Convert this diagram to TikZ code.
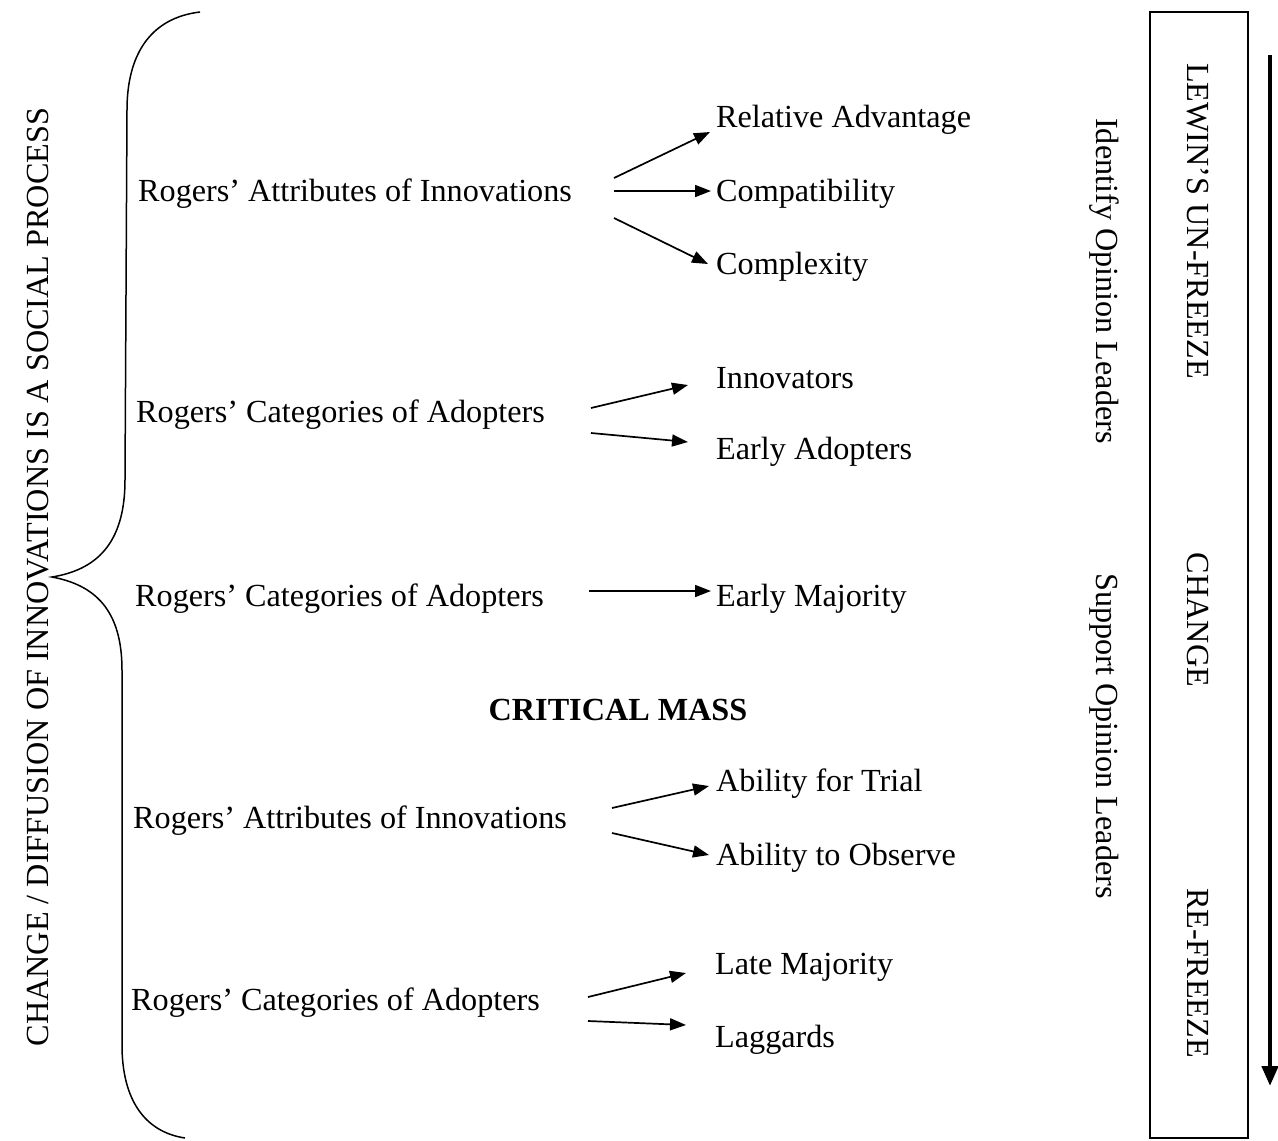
\documentclass[tikz,border=0pt]{standalone}
\usepackage{fontspec}
\setmainfont{Liberation Serif}
\usetikzlibrary{arrows.meta}
\begin{document}
\begin{tikzpicture}[x=1pt,y=-1pt,
  txt/.style={inner sep=0pt,anchor=west,font=\fontsize{32.2}{38}\selectfont},
  side/.style={inner sep=0pt,font=\fontsize{32.2}{38}\selectfont},
  link/.style={line width=1.7pt,-{Triangle[length=16pt,width=12pt]}}]
\useasboundingbox (0,0) rectangle (1278,1141);

% large curly brace
\draw[line width=1.5pt] (200,12) .. controls (150,18) and (127,55) .. (127,110)
  -- (125,480) .. controls (125,545) and (95,570) .. (52,577)
  .. controls (95,585) and (122,610) .. (122,670)
  -- (122,1045) .. controls (122,1100) and (145,1132) .. (185,1138);
\node[side,rotate=90] (title) at (38,577) {CHANGE / DIFFUSION OF INNOVATIONS IS A SOCIAL PROCESS};

% left column
\node[txt] (attrA) at (138,194) {Rogers’ Attributes of Innovations};
\node[txt] (catA)  at (136,415) {Rogers’ Categories of Adopters};
\node[txt] (catB)  at (135,599) {Rogers’ Categories of Adopters};
\node[inner sep=0pt,font=\fontsize{32.2}{38}\selectfont\bfseries] (mass) at (618,710) {CRITICAL MASS};
\node[txt] (attrB) at (133,821) {Rogers’ Attributes of Innovations};
\node[txt] (catC)  at (131,1003) {Rogers’ Categories of Adopters};

% right column
\node[txt] (reladv) at (716,120) {Relative Advantage};
\node[txt] (compat) at (716,194) {Compatibility};
\node[txt] (complx) at (716,267) {Complexity};
\node[txt] (innov)  at (716,378) {Innovators};
\node[txt] (early)  at (716,452) {Early Adopters};
\node[txt] (emaj)   at (716,599) {Early Majority};
\node[txt] (trial)  at (716,784) {Ability for Trial};
\node[txt] (observe) at (716,858) {Ability to Observe};
\node[txt] (lmaj)   at (715,967) {Late Majority};
\node[txt] (lag)    at (715,1040) {Laggards};

% arrow end points
\coordinate (s1) at (614,178); \coordinate (e1) at (710,132);
\coordinate (s2) at (614,191); \coordinate (e2) at (711,191);
\coordinate (s3) at (614,218); \coordinate (e3) at (708,264);
\coordinate (s4) at (591,408); \coordinate (e4) at (688,385);
\coordinate (s5) at (591,433); \coordinate (e5) at (688,442);
\coordinate (s6) at (589,591); \coordinate (e6) at (711,591);
\coordinate (s7) at (612,808); \coordinate (e7) at (709,786);
\coordinate (s8) at (612,833); \coordinate (e8) at (709,855);
\coordinate (s9) at (588,997); \coordinate (e9) at (686,973);
\coordinate (s10) at (588,1021); \coordinate (e10) at (686,1025);
\foreach \i in {1,...,10} \draw[link] (s\i) -- (e\i);

% opinion leader labels
\node[side,rotate=-90] (identify) at (1104,281) {Identify Opinion Leaders};
\node[side,rotate=-90] (support)  at (1104,736) {Support Opinion Leaders};

% Lewin's stages box
\draw[line width=1.3pt] (1150,12) rectangle (1248,1138);
\node[side,rotate=-90] (unfreeze) at (1198,221) {LEWIN’S UN-FREEZE};
\node[side,rotate=-90] (change)   at (1198,620) {CHANGE};
\node[side,rotate=-90] (refreeze) at (1198,973) {RE-FREEZE};

% time arrow
\coordinate (tA) at (1270,55);
\coordinate (tB) at (1270,1086);
\draw[line width=4.5pt,-{Triangle[length=20pt,width=16pt]}] (tA) -- (tB);
\end{tikzpicture}
\end{document}
